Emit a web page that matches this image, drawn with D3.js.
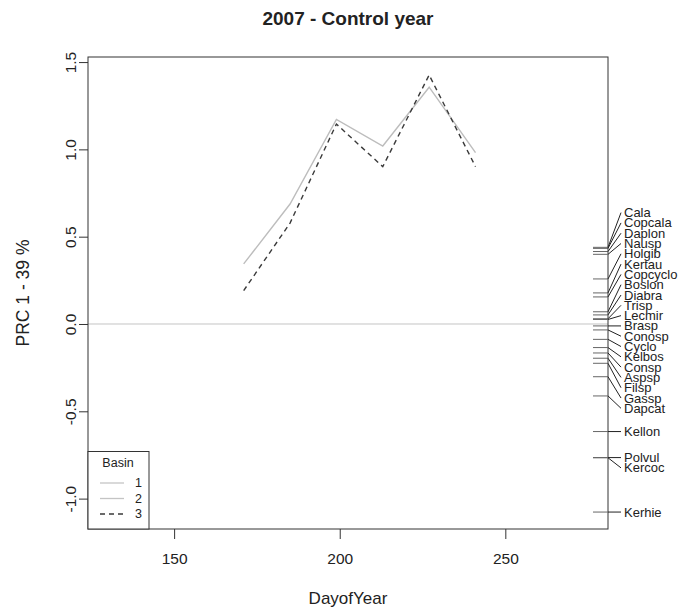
<!DOCTYPE html>
<html>
<head>
<meta charset="utf-8">
<script src="https://cdn.jsdelivr.net/npm/d3@7"></script>
<style>
  body { margin: 0; background: #fff; }
  text { font-family: "Liberation Sans", Arial, sans-serif; fill: #222; }
</style>
</head>
<body>
<svg></svg>
<script>
// sampling days and PRC scores per basin (basin 1 is the control = 0)
var days = [171, 185, 199, 213, 227, 241]
var basin2 = [0.344, 0.687, 1.172, 1.019, 1.356, 0.981]
var basin3 = [0.191, 0.578, 1.145, 0.901, 1.426, 0.901]

// species scores shown on the right
var species = ["Cala", "Copcala", "Daplon", "Nausp", "Holgib", "Kertau", "Copcyclo", "Boslon",
               "Diabra", "Trisp", "Lecmir", "Brasp", "Conosp", "Cyclo", "Kelbos", "Consp",
               "Aspsp", "Filsp", "Gassp", "Dapcat", "Kellon", "Polvul", "Kercoc", "Kerhie"]
var spScores = [0.439, 0.433, 0.415, 0.399, 0.258, 0.178, 0.155, 0.070,
                0.052, 0.030, 0.026, -0.011, -0.034, -0.088, -0.135, -0.166,
                -0.196, -0.225, -0.302, -0.412, -0.616, -0.765, -0.766, -1.077]

var xTicks = [150, 200, 250]
var yTicks = [-1.0, -0.5, 0.0, 0.5, 1.0, 1.5]
var legendLabels = ["1", "2", "3"]

var screen = {width: 683, height: 611}
var plot = {left: 88, right: 608, top: 57, bottom: 529}

var svg = d3.select("svg")
    .attr("width", screen.width)
    .attr("height", screen.height)

var xScale = d3.scaleLinear()
    .domain([124, 281])
    .range([plot.left, plot.right])

var yScale = d3.scaleLinear()
    .domain([-1.174, 1.529])
    .range([plot.bottom, plot.top])

// control line at zero
svg.append("line")
    .attr("x1", plot.left).attr("x2", plot.right)
    .attr("y1", yScale(0)).attr("y2", yScale(0))
    .attr("stroke", "#c4c4c4")
    .attr("stroke-width", 1)

var line = d3.line()
    .x(function(d){return xScale(d.x)})
    .y(function(d){return yScale(d.y)})

var pts2 = days.map(function(d, i){return {x: d, y: basin2[i]}})
var pts3 = days.map(function(d, i){return {x: d, y: basin3[i]}})

svg.append("path")
    .attr("d", line(pts2))
    .attr("fill", "none")
    .attr("stroke", "#bdbdbd")
    .attr("stroke-width", 1.4)

svg.append("path")
    .attr("d", line(pts3))
    .attr("fill", "none")
    .attr("stroke", "#3a3a3a")
    .attr("stroke-width", 1.4)
    .attr("stroke-dasharray", "5,4")

// axes
var xAxis = d3.axisBottom(xScale)
    .tickValues(xTicks)
    .tickSize(10)
    .tickPadding(14)
    .tickFormat(function(d){return d})

var gx = svg.append("g")
    .attr("transform", "translate(0," + plot.bottom + ")")
    .call(xAxis)
gx.select(".domain").remove()
gx.selectAll("line").attr("stroke", "#333")
gx.selectAll("text")
    .style("font-family", "Liberation Sans, Arial, sans-serif")
    .style("font-size", "15.5px")
    .attr("fill", "#222")

var yAxis = d3.axisLeft(yScale)
    .tickValues(yTicks)
    .tickSize(9)
    .tickFormat(function(d){return d.toFixed(1)})

var gy = svg.append("g")
    .attr("transform", "translate(" + plot.left + ",0)")
    .call(yAxis)
gy.select(".domain").remove()
gy.selectAll("line").attr("stroke", "#333")
gy.selectAll("text")
    .style("font-family", "Liberation Sans, Arial, sans-serif")
    .style("font-size", "15.5px")
    .attr("fill", "#222")
    .attr("x", null).attr("dy", null)
    .attr("text-anchor", "middle")
    .attr("dominant-baseline", "central")
    .attr("transform", "translate(-18,0) rotate(-90)")

// plot box
svg.append("rect")
    .attr("x", plot.left).attr("y", plot.top)
    .attr("width", plot.right - plot.left)
    .attr("height", plot.bottom - plot.top)
    .attr("fill", "none")
    .attr("stroke", "#333")
    .attr("stroke-width", 1)

// titles
svg.append("text")
    .attr("x", (plot.left + plot.right) / 2)
    .attr("y", 18.5)
    .attr("text-anchor", "middle")
    .attr("dominant-baseline", "central")
    .style("font-size", "19px")
    .style("font-weight", "bold")
    .attr("fill", "#111")
    .text("2007 - Control year")

svg.append("text")
    .attr("x", (plot.left + plot.right) / 2)
    .attr("y", 598)
    .attr("text-anchor", "middle")
    .attr("dominant-baseline", "central")
    .style("font-size", "17px")
    .text("DayofYear")

svg.append("text")
    .attr("transform", "translate(23," + ((plot.top + plot.bottom) / 2) + ") rotate(-90)")
    .attr("text-anchor", "middle")
    .attr("dominant-baseline", "central")
    .style("font-size", "17.5px")
    .text("PRC 1 - 39 %")

// species stack: labels spread out from the middle one
var sp = species.map(function(s, i){return {name: s, v: spScores[i], y: yScale(spScores[i])}})
sp.sort(function(a, b){return a.y - b.y})
var gap = 10.3
var mid = Math.floor((sp.length - 1) / 2)
sp.forEach(function(d){d.ly = d.y})
for (var i = mid + 1; i < sp.length; i++) {
    if (sp[i].ly - sp[i-1].ly < gap) sp[i].ly = sp[i-1].ly + gap
}
for (var i = mid - 1; i >= 0; i--) {
    if (sp[i+1].ly - sp[i].ly < gap) sp[i].ly = sp[i+1].ly - gap
}

var gs = svg.append("g")
gs.selectAll(".rug")
    .data(sp)
    .enter()
    .append("line")
    .attr("x1", plot.right - 15).attr("x2", plot.right)
    .attr("y1", function(d){return d.y}).attr("y2", function(d){return d.y})
    .attr("stroke", "#666")
    .attr("stroke-width", 1)

gs.selectAll(".hang")
    .data(sp)
    .enter()
    .append("line")
    .attr("x1", plot.right).attr("x2", plot.right + 13)
    .attr("y1", function(d){return d.y}).attr("y2", function(d){return d.ly})
    .attr("stroke", "#222")
    .attr("stroke-width", 1)

gs.selectAll("text")
    .data(sp)
    .enter()
    .append("text")
    .attr("x", plot.right + 16)
    .attr("y", function(d){return d.ly})
    .attr("dominant-baseline", "central")
    .style("font-size", "13px")
    .text(function(d){return d.name})

// legend
var lg = svg.append("g")
lg.append("rect")
    .attr("x", plot.left).attr("y", 451.5)
    .attr("width", 61).attr("height", plot.bottom - 451.5)
    .attr("fill", "#fff")
    .attr("stroke", "#333")
lg.append("text")
    .attr("x", 118).attr("y", 463)
    .attr("text-anchor", "middle")
    .attr("dominant-baseline", "central")
    .style("font-size", "12.5px")
    .text("Basin")
var legStroke = ["#c4c4c4", "#c4c4c4", "#3a3a3a"]
var legDash = [null, null, "5,4"]
legendLabels.forEach(function(l, i){
    var yy = 483 + i * 15.5
    lg.append("line")
        .attr("x1", 100).attr("x2", 124)
        .attr("y1", yy).attr("y2", yy)
        .attr("stroke", legStroke[i])
        .attr("stroke-width", 1.3)
        .attr("stroke-dasharray", legDash[i])
    lg.append("text")
        .attr("x", 142).attr("y", yy)
        .attr("text-anchor", "end")
        .attr("dominant-baseline", "central")
        .style("font-size", "12.5px")
        .text(l)
})
</script>
</body>
</html>
